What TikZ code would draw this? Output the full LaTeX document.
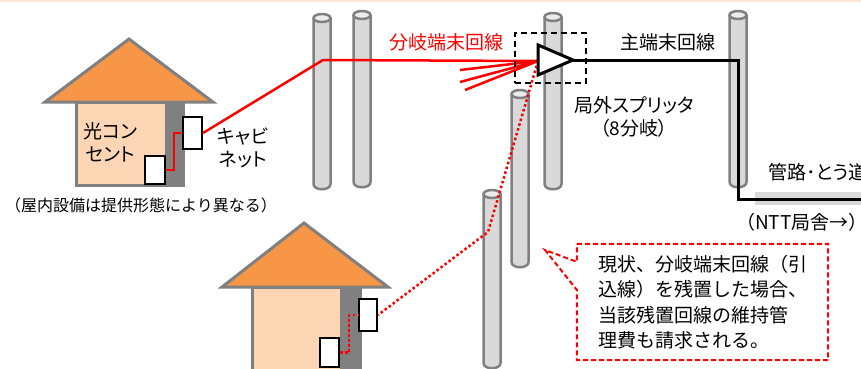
\documentclass[tikz,border=0pt]{standalone}
\usepackage{fontspec}
\setmainfont{Noto Sans CJK JP}
\newfontfamily\kanafont{Noto Sans CJK JP}[RawFeature=+palt]
\usetikzlibrary{calc}

\definecolor{roof}{HTML}{F79646}
\definecolor{wall}{HTML}{FCD5B5}
\definecolor{frame}{HTML}{808080}
\definecolor{polefill}{HTML}{D9D9D9}
\definecolor{polecap}{HTML}{ECECEC}
\definecolor{topline}{HTML}{FCE4D6}

% pole: x, y of top cap, y of bottom
\newcommand{\drawpole}[3]{%
  \draw[pole] (#1-8.5,#2) -- (#1-8.5,#3) .. controls (#1-8.5,#3+7) and (#1+8.5,#3+7) .. (#1+8.5,#3) -- (#1+8.5,#2);
  \draw[pole,fill=polecap] (#1,#2) ellipse [x radius=8.5pt, y radius=4pt];
}

\begin{document}
\begin{tikzpicture}[x=1pt,y=-1pt,
    pole/.style={draw=frame,line width=2.5pt,fill=polefill},
    house/.style={draw=frame,line width=3pt},
    box/.style={draw=black,line width=2pt,fill=white,inner sep=0pt},
    wire/.style={red,line width=2.5pt},
    oldwire/.style={red,line width=2.5pt,dash pattern=on 2.5pt off 2.5pt},
    mainwire/.style={black,line width=3pt},
    lbl/.style={font=\fontsize{19}{23}\selectfont,inner sep=0pt,align=center},
    kana/.style={font=\kanafont\fontsize{19}{23}\selectfont}]
    \useasboundingbox (0,0) rectangle (861,368);
    \clip (0,0) rectangle (861,368);
    \draw[topline,line width=2pt] (0,1) -- (861,1);

    % poles
    \drawpole{322}{18}{184}
    \drawpole{362}{15}{182}
    \drawpole{553}{17}{184}
    \drawpole{738}{15}{182}
    \drawpole{520}{94}{262}
    \drawpole{492}{194}{363}

    % house with outlet (top)
    \draw[house,fill=wall] (76,102) rectangle (183,185);
    \fill[frame] (165,102) rectangle (183,185);
    \draw[house,fill=roof] (45,102) -- (129,39) -- (213,102) -- cycle;
    \node[box,minimum width=19pt,minimum height=32pt] (cab1) at (192.5,133) {};
    \node[box,minimum width=20pt,minimum height=28pt] (out1) at (155,170) {};

    % house (bottom)
    \draw[house,fill=wall] (252,287) rectangle (360,375);
    \fill[frame] (340,287) rectangle (360,375);
    \draw[house,fill=roof] (222,287) -- (304,223) -- (388,287) -- cycle;
    \node[box,minimum width=18pt,minimum height=32pt] (cab2) at (368,315) {};
    \node[box,minimum width=19pt,minimum height=29pt] (out2) at (329.5,352.5) {};

    \coordinate (bendA) at (323,60);
    \coordinate (spin) at (538,61);
    \coordinate (spout) at (573,60);
    \coordinate (bendF) at (488,232);
    \coordinate (bendD) at (738,60);
    \coordinate (downD) at (738,199);
    \coordinate (toNTT) at (870,199);
    \coordinate (fan1) at (460,70);
    \coordinate (fan2) at (460,82);
    \coordinate (fan3) at (465,90);
    \coordinate (tip) at (545,250);

    % duct
    \fill[polefill] (755,192) rectangle (870,205);

    % drop lines
    \draw[wire] (out1.east) -- ++(8,0) |- (cab1.west);
    \draw[wire] (cab1.east) -- (bendA) -- (spin);
    \draw[wire] (spin) -- (fan1);
    \draw[wire] (spin) -- (fan2);
    \draw[wire] (spin) -- (fan3);
    \draw[oldwire] (spin) -- (bendF) -- (cab2.east);
    \draw[oldwire] (out2.east) -- ++(9,0) |- (cab2.west);

    % splitter
    \node[draw=black,line width=2pt,dash pattern=on 6pt off 4pt,minimum width=71pt,minimum height=50pt] (splitter) at (550.5,58) {};
    \draw[mainwire,fill=white,line join=miter] (538,45) -- (spout) -- (538,75) -- cycle;
    \draw[mainwire] (spout) -- (bendD) -- (downD) -- (toNTT);

    % labels
    \node[lbl,text=red] (branchlbl) at (446,42) {分岐端末回線};
    \node[lbl] (mainlbl) at (668,42) {主端末回線};
    \node[lbl,kana] (splitlbl) at (634,117) {局外スプリッタ\\（8分岐）};
    \node[lbl,kana] (outlbl) at (110,142) {光コン\\セント};
    \node[lbl,kana] (cablbl) at (243,148) {キャビ\\ネット};
    \node[lbl,font=\fontsize{16}{18}\selectfont] (caption) at (141,205) {（屋内設備は提供形態により異なる）};
    \node[lbl,kana,anchor=west] (ductlbl) at (768,172) {管路･とう道};
    \node[lbl,anchor=west] (nttlbl) at (736,222) {（NTT局舎→）};

    % note
    \node[lbl,align=left,font=\fontsize{19}{25.5}\selectfont,minimum width=251pt,minimum height=116pt] (note) at (702.5,302)
      {現状、分岐端末回線（引\\込線）を残置した場合、\\当該残置回線の維持管\\理費も請求される。};
    \draw[red,line width=2pt,dash pattern=on 5pt off 3pt] (note.north west) -- (note.north east) -- (note.south east) -- (note.south west)
      -- ($(note.north west)+(0,46)$) -- (tip) -- ($(note.north west)+(0,18)$) -- cycle;
\end{tikzpicture}
\end{document}
